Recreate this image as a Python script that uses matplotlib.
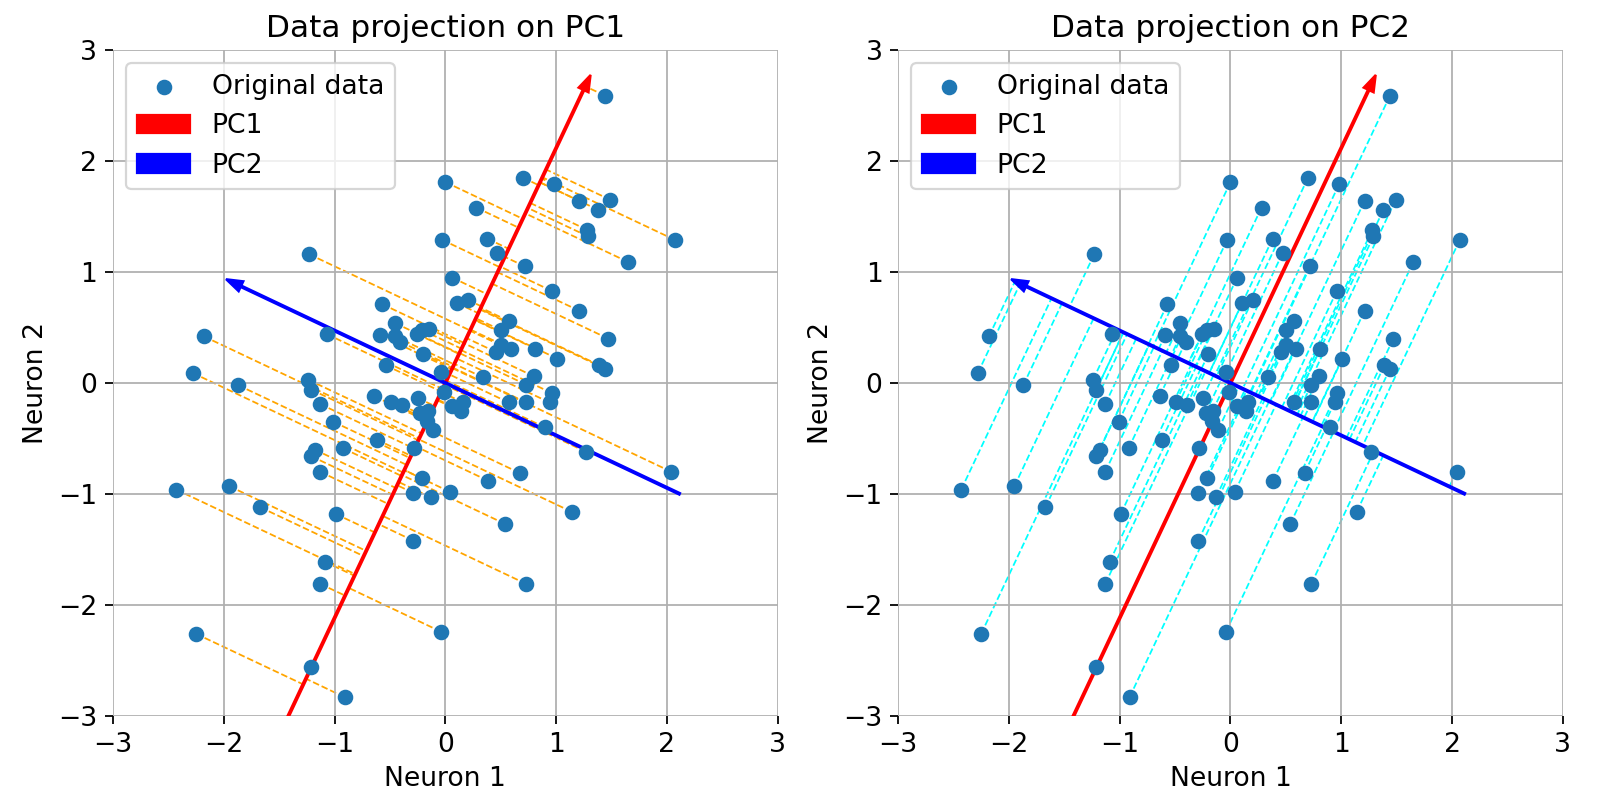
import numpy as np
import matplotlib
matplotlib.use("Agg")
import matplotlib.pyplot as plt

plt.rcParams["font.size"] = 12

# data (neuron 1, neuron 2)
neuron1 = [0.00, 0.70, 0.98, 0.28, -0.03, 0.38, 0.47, 0.72, 1.44, 1.21,
           1.49, 1.38, 1.28, 1.29, 2.07, 1.65, -1.23, 0.06, 0.96, 0.105,
           0.20, -0.57, 0.57, 0.50, -0.455, -0.59, -0.455, -0.405, -0.254, -0.21,
           -0.15, -0.20, -0.54, -0.04, 0.455, 0.50, 0.59, 0.81, 1.01, 0.34,
           0.80, 0.73, 0.96, 0.94, 0.73, 0.57, -0.01, -0.64, -0.495, -0.395,
           -0.25, 0.06, 0.16, 0.14, -0.225, -0.16, -0.17, -0.11, -0.62, -0.92,
           -1.01, -0.28, 0.90, -0.21, 0.385, 0.67, -0.29, -0.13, 0.04, -2.18,
           -2.28, -1.87, -1.07, -1.24, -1.21, -1.13, -1.18, -1.21, -1.13, -2.43,
           -1.95, 1.21, 1.47, 1.39, 1.44, 1.27, 2.04, -1.67, -0.99, -1.09,
           -1.13, -2.25, -1.21, 0.54, -0.29, 0.73, -0.04, -0.91, 1.14]
neuron2 = [1.81, 1.85, 1.79, 1.58, 1.29, 1.30, 1.17, 1.05, 2.59, 1.64,
           1.65, 1.56, 1.38, 1.32, 1.29, 1.09, 1.16, 0.95, 0.83, 0.72,
           0.75, 0.71, 0.56, 0.477, 0.54, 0.43, 0.42, 0.37, 0.44, 0.477,
           0.49, 0.26, 0.16, 0.10, 0.28, 0.34, 0.31, 0.31, 0.22, 0.05,
           0.06, -0.015, -0.09, -0.175, -0.175, -0.175, -0.08, -0.12, -0.175, -0.20,
           -0.135, -0.21, -0.175, -0.256, -0.27, -0.25, -0.34, -0.42, -0.51, -0.59,
           -0.35, -0.59, -0.40, -0.86, -0.88, -0.81, -0.99, -1.03, -0.98, 0.42,
           0.09, -0.02, 0.44, 0.03, -0.06, -0.19, -0.60, -0.66, -0.80, -0.96,
           -0.93, 0.65, 0.40, 0.16, 0.13, -0.62, -0.80, -1.12, -1.18, -1.61,
           -1.81, -2.26, -2.56, -1.27, -1.42, -1.81, -2.24, -2.83, -1.16]

# principal axes (unit vectors) and arrow extents
pc1 = [0.427, 0.904]
pc2 = [-0.904, 0.427]
pc1_tip, pc1_tail = 3.07, 3.5
pc2_tip, pc2_tail = 2.19, 2.34

X = np.column_stack([neuron1, neuron2])

fig = plt.figure(figsize=(10, 5), dpi=160)
ax1 = fig.add_axes([0.0706, 0.105, 0.4155, 0.8325])
ax2 = fig.add_axes([0.5613, 0.105, 0.4155, 0.8325])


def draw_arrow(ax, pc, tip, tail, color, label):
    v = np.array(pc)
    start = -tail * v
    d = (tip + tail) * v
    ax.arrow(start[0], start[1], d[0], d[1], color=color, label=label,
             width=0.015, head_width=0.1, head_length=0.15,
             length_includes_head=True, linewidth=1, zorder=2)


for ax, pc, col, title in [(ax1, pc1, "orange", "Data projection on PC1"),
                           (ax2, pc2, "cyan", "Data projection on PC2")]:
    v = np.array(pc)
    proj = np.outer(X @ v, v)
    for p, q in zip(X, proj):
        ax.plot([p[0], q[0]], [p[1], q[1]], "--", color=col, linewidth=0.8, zorder=1)
    ax.scatter(X[:, 0], X[:, 1], label="Original data", zorder=3)
    draw_arrow(ax, pc1, pc1_tip, pc1_tail, "red", "PC1")
    draw_arrow(ax, pc2, pc2_tip, pc2_tail, "blue", "PC2")
    ax.set_xlim(-3, 3)
    ax.set_ylim(-3, 3)
    ax.set_xlabel("Neuron 1")
    ax.set_ylabel("Neuron 2")
    ax.set_title(title, fontsize=14)
    ax.grid(True)
    for s in ax.spines.values():
        s.set_visible(False)
    ax.legend(loc="upper left")

fig.savefig("out.png", dpi=160)
